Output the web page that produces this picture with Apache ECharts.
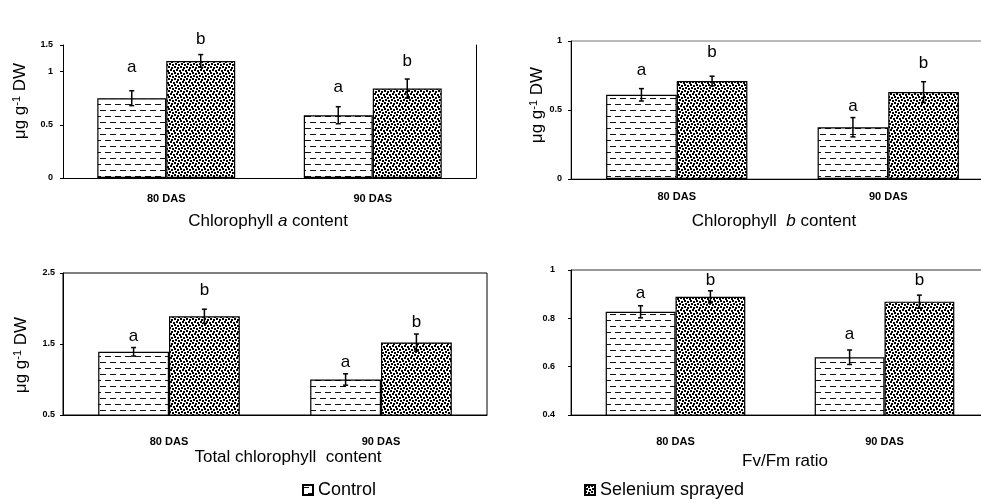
<!DOCTYPE html>
<html><head><meta charset="utf-8">
<script src="https://cdn.jsdelivr.net/npm/echarts@6/dist/echarts.min.js"></script>
<style>html,body{margin:0;padding:0;background:#fff}#c{width:981px;height:504px}</style>
</head><body><div id="c"></div>
<script>
// ---------- data ----------
const categories = ['80 DAS', '90 DAS'];
const seriesNames = ['Control', 'Selenium sprayed'];
const letters = ['a', 'b'];

// Chlorophyll a content
const chlA_control = [0.75, 0.59];
const chlA_selenium = [1.10, 0.84];
const chlA_controlErr = [0.07, 0.08];
const chlA_seleniumErr = [0.06, 0.09];
const chlA_controlLetterY = [1.04, 0.85];
const chlA_seleniumLetterY = [1.30, 1.10];
const chlA_tickValues = [0, 0.5, 1, 1.25];
const chlA_tickLabels = ['0', '0.5', '1', '1.5'];

// Chlorophyll b content
const chlB_control = [0.61, 0.375];
const chlB_selenium = [0.71, 0.63];
const chlB_controlErr = [0.045, 0.07];
const chlB_seleniumErr = [0.035, 0.075];
const chlB_controlLetterY = [0.79, 0.53];
const chlB_seleniumLetterY = [0.915, 0.84];
const chlB_tickValues = [0, 0.5, 1];
const chlB_tickLabels = ['0', '0.5', '1'];

// Total chlorophyll content
const tot_control = [1.39, 1.0];
const tot_selenium = [1.89, 1.52];
const tot_controlErr = [0.06, 0.08];
const tot_seleniumErr = [0.10, 0.12];
const tot_controlLetterY = [1.61, 1.24];
const tot_seleniumLetterY = [2.25, 1.81];
const tot_tickValues = [0.5, 1.5, 2.5];
const tot_tickLabels = ['0.5', '1.5', '2.5'];

// Fv/Fm ratio
const fv_control = [0.827, 0.639];
const fv_selenium = [0.889, 0.869];
const fv_controlErr = [0.025, 0.03];
const fv_seleniumErr = [0.025, 0.027];
const fv_controlLetterY = [0.903, 0.735];
const fv_seleniumLetterY = [0.956, 0.956];
const fv_tickValues = [0.4, 0.6, 0.8, 1];
const fv_tickLabels = ['0.4', '0.6', '0.8', '1'];

// ---------- patterns ----------
function makeDash() {
  const c = document.createElement('canvas'); c.width = 10; c.height = 12;
  const g = c.getContext('2d');
  g.fillStyle = '#fff'; g.fillRect(0, 0, 10, 12);
  g.fillStyle = '#111';
  g.fillRect(0, 2, 6, 1);
  g.fillRect(5, 8, 5, 1); g.fillRect(0, 8, 1, 1);
  return c;
}
function makeDots() {
  const c = document.createElement('canvas'); c.width = 12; c.height = 12;
  const g = c.getContext('2d');
  g.fillStyle = '#fff'; g.fillRect(0, 0, 12, 12);
  g.fillStyle = '#000';
  const pts = [[0,0],[3,1],[6,0],[9,1],[1,3],[4,4],[7,3],[10,4],[0,6],[3,7],[6,6],[9,7],[2,9],[5,10],[8,9],[11,10]];
  pts.forEach(q => { g.fillRect(q[0], q[1], 2, 2); if (q[0] === 11) g.fillRect(0, q[1], 1, 2); });
  return c;
}
const dashPattern = { image: makeDash(), repeat: 'repeat' };
const dotPattern = { image: makeDots(), repeat: 'repeat' };

const FONT = '"Liberation Sans", Arial, sans-serif';
const TICKFONT = '"Liberation Sans Narrow", "Liberation Sans", Arial, sans-serif';

const panels = [
  { grid: { left: 63, top: 45, width: 413, height: 133 }, min: 0, max: 1.25,
    tv: chlA_tickValues, tl: chlA_tickLabels, labelMargin: 10, xMargin: 15,
    c: chlA_control, s: chlA_selenium, ce: chlA_controlErr, se: chlA_seleniumErr,
    cl: chlA_controlLetterY, sl: chlA_seleniumLetterY, border: 'right' },
  { grid: { left: 571, top: 41, width: 423, height: 138 }, min: 0, max: 1,
    tv: chlB_tickValues, tl: chlB_tickLabels, labelMargin: 9, xMargin: 12,
    c: chlB_control, s: chlB_selenium, ce: chlB_controlErr, se: chlB_seleniumErr,
    cl: chlB_controlLetterY, sl: chlB_seleniumLetterY, border: '#777' },
  { grid: { left: 63, top: 273, width: 424, height: 142 }, min: 0.5, max: 2.5,
    tv: tot_tickValues, tl: tot_tickLabels, labelMargin: 8, xMargin: 21,
    c: tot_control, s: tot_selenium, ce: tot_controlErr, se: tot_seleniumErr,
    cl: tot_controlLetterY, sl: tot_seleniumLetterY, border: '#000' },
  { grid: { left: 571, top: 270, width: 418, height: 145 }, min: 0.4, max: 1,
    tv: fv_tickValues, tl: fv_tickLabels, labelMargin: 16, xMargin: 21,
    c: fv_control, s: fv_selenium, ce: fv_controlErr, se: fv_seleniumErr,
    cl: fv_controlLetterY, sl: fv_seleniumLetterY, border: '#333' }
];

const grids = [], xAxes = [], yAxes = [], series = [];
function errRender(side) {
  return function (params, api) {
    const i = api.value(0), v = api.value(1), e = api.value(2);
    const band = api.size([1, 0])[0];
    const off = side * band * 0.167;
    const t = api.coord([i, v + e]), b = api.coord([i, v - e]);
    const x = t[0] + off;
    const st = { stroke: '#000', lineWidth: 1.5 };
    return { type: 'group', children: [
      { type: 'line', shape: { x1: x, y1: t[1], x2: x, y2: b[1] }, style: st },
      { type: 'line', shape: { x1: x - 2.5, y1: t[1], x2: x + 2.5, y2: t[1] }, style: st },
      { type: 'line', shape: { x1: x - 2.5, y1: b[1], x2: x + 2.5, y2: b[1] }, style: st }
    ] };
  };
}
function letterRender(side, txt) {
  return function (params, api) {
    const i = api.value(0), v = api.value(1);
    const band = api.size([1, 0])[0];
    const p = api.coord([i, v]);
    return { type: 'text', x: p[0] + side * band * 0.167, y: p[1],
      style: { text: txt, fontSize: 17, fontFamily: FONT, fill: '#000', align: 'center', verticalAlign: 'middle' } };
  };
}

panels.forEach((p, k) => {
  const g = Object.assign({ outerBoundsMode: 'none', containLabel: false }, p.grid);
  if (p.border && p.border !== 'right') { g.show = true; g.borderColor = p.border; g.borderWidth = 1; }
  grids.push(g);
  xAxes.push({ type: 'category', gridIndex: k, data: categories,
    axisLine: { lineStyle: { color: '#000', width: 1 } },
    axisTick: { length: 4, lineStyle: { color: '#000' } },
    axisLabel: { fontSize: 11, fontWeight: 'bold', fontFamily: TICKFONT, color: '#000', margin: p.xMargin },
    splitLine: { show: false } });
  const tv = p.tv, tl = p.tl;
  yAxes.push({ type: 'value', gridIndex: k, min: p.min, max: p.max,
    axisLine: { show: true, lineStyle: { color: '#000', width: 1 } },
    axisTick: { show: true, length: 3, customValues: tv, lineStyle: { color: '#000' } },
    axisLabel: { customValues: tv, fontSize: 9, fontWeight: 'bold', fontFamily: TICKFONT, color: '#000', margin: p.labelMargin,
      formatter: function (v) { let bi = 0; tv.forEach((t, j) => { if (Math.abs(t - v) < Math.abs(tv[bi] - v)) bi = j; }); return tl[bi]; } },
    splitLine: { show: false } });
  const yi = yAxes.length - 1;
  if (p.border === 'right') {
    yAxes.push({ type: 'value', gridIndex: k, position: 'right', min: p.min, max: p.max,
      axisLine: { show: true, lineStyle: { color: '#000', width: 1 } },
      axisTick: { show: false }, axisLabel: { show: false }, splitLine: { show: false } });
  }
  const common = { type: 'bar', xAxisIndex: k, yAxisIndex: yi, barWidth: '33.4%', barGap: '0%' };
  series.push(Object.assign({ name: seriesNames[0], data: p.c,
    itemStyle: { color: dashPattern, borderColor: '#000', borderWidth: 1.2 } }, common));
  series.push(Object.assign({ name: seriesNames[1], data: p.s,
    itemStyle: { color: dotPattern, borderColor: '#000', borderWidth: 1.2 } }, common));
  series.push({ type: 'custom', xAxisIndex: k, yAxisIndex: yi, z: 5, renderItem: errRender(-1),
    data: categories.map((c, i) => [i, p.c[i], p.ce[i]]) });
  series.push({ type: 'custom', xAxisIndex: k, yAxisIndex: yi, z: 5, renderItem: errRender(1),
    data: categories.map((c, i) => [i, p.s[i], p.se[i]]) });
  series.push({ type: 'custom', xAxisIndex: k, yAxisIndex: yi, z: 5, renderItem: letterRender(-1, letters[0]),
    data: categories.map((c, i) => [i, p.cl[i]]) });
  series.push({ type: 'custom', xAxisIndex: k, yAxisIndex: yi, z: 5, renderItem: letterRender(1, letters[1]),
    data: categories.map((c, i) => [i, p.sl[i]]) });
});

const titleRich = { n: { fontSize: 17, fontFamily: FONT, fill: '#000' }, i: { fontSize: 17, fontFamily: FONT, fontStyle: 'italic', fill: '#000' } };
function titleText(x, y, text) {
  return { type: 'text', x: x, y: y, style: { text: text, rich: titleRich, fontSize: 17, fontFamily: FONT, fill: '#000', align: 'center', verticalAlign: 'middle' } };
}
const yRich = { n: { fontSize: 17, fontFamily: FONT, fill: '#000', verticalAlign: 'bottom', lineHeight: 18 },
                s: { fontSize: 11, fontFamily: FONT, fill: '#000', verticalAlign: 'top', lineHeight: 18 } };
function yTitle(x, y) {
  return { type: 'text', x: x, y: y, rotation: Math.PI / 2,
    style: { text: '{n|μg g}{s|-1}{n| DW}', rich: yRich, align: 'center', verticalAlign: 'middle' } };
}

const chart = echarts.init(document.getElementById('c'), null, { renderer: 'canvas' });
chart.setOption({
  animation: false,
  backgroundColor: '#fff',
  grid: grids, xAxis: xAxes, yAxis: yAxes, series: series,
  legend: { data: seriesNames, left: 302, top: 481, padding: 0, itemWidth: 10, itemHeight: 10, itemGap: 208,
    icon: 'rect', textStyle: { fontSize: 18, fontFamily: FONT, color: '#000' } },
  graphic: [
    titleText(268, 221, '{n|Chlorophyll }{i|a}{n| content}'),
    titleText(774, 221, '{n|Chlorophyll  }{i|b}{n| content}'),
    titleText(288, 457, '{n|Total chlorophyll  content}'),
    titleText(785, 461, '{n|Fv/Fm ratio}'),
    yTitle(20, 101), yTitle(537, 105), yTitle(21, 355)
  ]
});
</script></body></html>
